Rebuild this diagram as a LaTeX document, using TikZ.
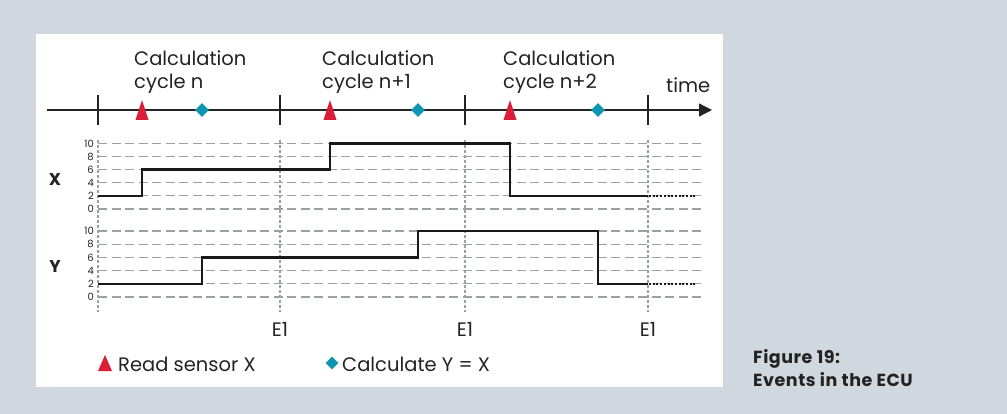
\documentclass[tikz,border=0pt]{standalone}
\usepackage{fontspec}
\setmainfont{Poppins}
\newfontfamily\capfont[LetterSpace=3]{Poppins}
\usetikzlibrary{arrows.meta, shapes.geometric}

\definecolor{bggray}{RGB}{208,215,222}
\definecolor{sensorred}{RGB}{218,30,55}
\definecolor{calcblue}{RGB}{16,150,178}
\definecolor{gridgray}{RGB}{155,160,165}
\definecolor{textdark}{RGB}{35,35,35}

\begin{document}
\begin{tikzpicture}[x=1pt, y=-1pt, textdark,
    gridline/.style={gridgray, line width=1.1pt, dash pattern=on 9pt off 4.5pt},
    eventline/.style={gridgray, line width=2pt, dash pattern=on 3pt off 2pt},
    signal/.style={black!90, line width=2.6pt},
    calcmark/.style={diamond, fill=calcblue, inner sep=0pt, minimum size=14pt},
    label/.style={font=\fontsize{19.5}{23}\selectfont, inner sep=0pt},
    ticklabel/.style={font=\fontsize{10}{12}\selectfont, inner sep=0pt, anchor=east}]
    \useasboundingbox (0,0) rectangle (1007,414);
    \fill[bggray] (0,0) rectangle (1007,414);
    \fill[white] (36,34) rectangle (723,387);

    % time axis
    \draw[line width=1.3pt, -{Triangle[length=13pt, width=13pt]}] (47,110) -- (712,110);
    \foreach \t in {98,280,465,648}
        \draw[line width=1.3pt] (\t,95) -- (\t,125);
    \node[label, align=left, anchor=north west] (cyc0) at (134,50) {Calculation\\cycle n};
    \node[label, align=left, anchor=north west] (cyc1) at (322,50) {Calculation\\cycle n+1};
    \node[label, align=left, anchor=north west] (cyc2) at (503,50) {Calculation\\cycle n+2};
    \node[label, anchor=base west] (time) at (666,93) {time};
    \foreach \r in {142,330,510}
        \fill[sensorred] (\r-6.5,120) -- (\r+6.5,120) -- (\r,100) -- cycle;
    \foreach \c [count=\i] in {202,418,598}
        \node[calcmark] (calc\i) at (\c,110) {};

    % event lines
    \foreach \e in {98,280,465,648}
        \draw[eventline] (\e,140) -- (\e,312);

    % signal X
    \begin{scope}[yshift=-209pt, y=6.55pt]
        \foreach \v in {0,2,...,10} {
            \draw[gridline] (98,\v) -- (705,\v);
            \node[ticklabel] (xt\v) at (94,\v) {\v};
        }
        \draw[signal] (98,2) -- (142,2) -- (142,6) -- (330,6) -- (330,10)
            -- (510,10) -- (510,2) -- (648,2);
        \draw[signal, dash pattern=on 2pt off 1.7pt] (649,2) -- (695,2);
    \end{scope}
    \node[font=\fontsize{17}{20}\selectfont\bfseries, inner sep=0pt] (xname) at (55,180) {X};

    % signal Y
    \begin{scope}[yshift=-297pt, y=6.6pt]
        \foreach \v in {0,2,...,10} {
            \draw[gridline] (98,\v) -- (705,\v);
            \node[ticklabel] (yt\v) at (94,\v) {\v};
        }
        \draw[signal] (98,2) -- (202,2) -- (202,6) -- (418,6) -- (418,10)
            -- (598,10) -- (598,2) -- (648,2);
        \draw[signal, dash pattern=on 2pt off 1.7pt] (649,2) -- (695,2);
    \end{scope}
    \node[font=\fontsize{17}{20}\selectfont\bfseries, inner sep=0pt] (yname) at (55,267) {Y};

    % events
    \foreach \e [count=\i] in {280,465,648}
        \node[label, anchor=base] (e\i) at (\e,336) {E1};

    % legend
    \fill[sensorred] (98,371) -- (112,371) -- (105,355) -- cycle;
    \node[label, anchor=base west] (readtxt) at (118,371) {Read sensor X};
    \node[calcmark, minimum size=13pt] (calcleg) at (332,363) {};
    \node[label, anchor=base west] (calctxt) at (342,371) {Calculate Y = X};

    % caption
    \node[font=\capfont\fontsize{17.5}{23}\selectfont\bfseries, align=left, anchor=north west, inner sep=0pt]
        (caption) at (753,349) {Figure 19:\\Events in the ECU};
\end{tikzpicture}
\end{document}
